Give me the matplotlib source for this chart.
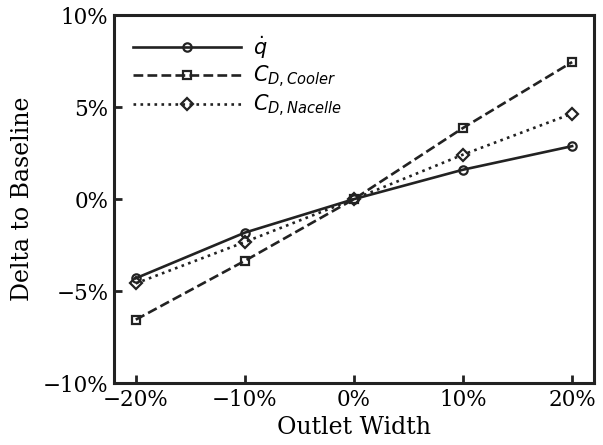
import numpy as np
import matplotlib
matplotlib.use("Agg")
import matplotlib.pyplot as plt
from matplotlib.ticker import FuncFormatter

# outlet width variation (%) and response deltas (%)
outlet_width = [-20, -10, 0, 10, 20]
q_dot = [-4.3, -1.82, 0.0, 1.6, 2.88]
cd_cooler = [-6.55, -3.35, 0.0, 3.87, 7.45]
cd_nacelle = [-4.58, -2.33, 0.0, 2.42, 4.65]

plt.rcParams['font.family'] = 'DejaVu Serif'
plt.rcParams['mathtext.fontset'] = 'dejavusans'

fig = plt.figure(figsize=(6.03, 4.45), dpi=100)
ax = fig.add_axes([0.189, 0.139, 0.796, 0.827])

c = '#222222'
ax.plot(outlet_width, q_dot, '-', color=c, lw=1.9, marker='o', ms=6,
        mfc='none', mew=1.6, label=r'$\dot{q}$')
ax.plot(outlet_width, cd_cooler, '--', color=c, lw=1.9, marker='s', ms=6,
        mfc='none', mew=1.6, label=r'$C_{D,Cooler}$')
ax.plot(outlet_width, cd_nacelle, ':', color=c, lw=1.9, marker='D', ms=6,
        mfc='none', mew=1.6, label=r'$C_{D,Nacelle}$')

ax.set_xlim(-22, 22)
ax.set_ylim(-10, 10)
ax.set_xticks([-20, -10, 0, 10, 20])
ax.set_yticks([-10, -5, 0, 5, 10])
pct = FuncFormatter(lambda v, p: ('\u2212' if v < 0 else '') + '%d%%' % abs(v))
ax.xaxis.set_major_formatter(pct)
ax.yaxis.set_major_formatter(pct)

ax.tick_params(direction='in', length=6, width=2, labelsize=15.5, color=c, pad=4)
for s in ax.spines.values():
    s.set_linewidth(2.2)
    s.set_color(c)

ax.set_xlabel('Outlet Width', fontsize=17, labelpad=4)
ax.set_ylabel('Delta to Baseline', fontsize=17, labelpad=6)

ax.legend(loc='upper left', frameon=False, fontsize=15, handlelength=5.2,
          labelspacing=0.15, handletextpad=0.55, borderaxespad=0.5)

fig.savefig('out.png', dpi=100)
